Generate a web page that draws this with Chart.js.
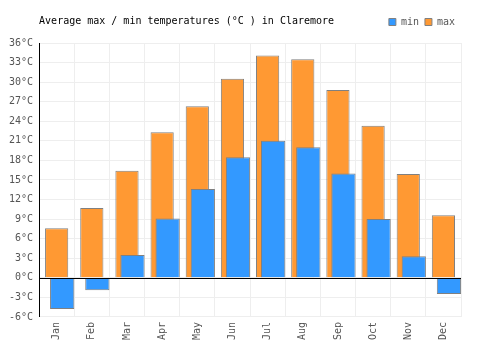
<!DOCTYPE html>
<html>
<head>
<meta charset="utf-8">
<script src="https://cdn.jsdelivr.net/npm/chart.js@4"></script>
<style>
  html, body { margin: 0; padding: 0; background: #fff; }
  #wrap { width: 500px; height: 350px; }
</style>
</head>
<body>
<div id="wrap"><canvas id="chart"></canvas></div>
<script>
const months   = ["Jan", "Feb", "Mar", "Apr", "May", "Jun",
                  "Jul", "Aug", "Sep", "Oct", "Nov", "Dec"];
const minTemps = [-4.8, -1.9, 3.5, 9.1, 13.6, 18.5, 21.0, 20.0, 16.0, 9.0, 3.3, -2.5];
const maxTemps = [7.6, 10.7, 16.4, 22.3, 26.3, 30.5, 34.1, 33.5, 28.8, 23.3, 15.9, 9.6];
const titleText = "Average max / min temperatures (°C ) in Claremore";

const FONT = "'DejaVu Sans Mono', monospace";
const MIN_SHIFT = 0.157;   // min bars sit a little right of the max bars

// title sits on the same row as the legend
const titlePlugin = {
    id: "rowTitle",
    afterDraw(chart) {
        const ctx = chart.ctx;
        ctx.save();
        ctx.font = "10px " + FONT;
        ctx.fillStyle = "#000";
        ctx.textBaseline = "middle";
        ctx.fillText(titleText, chart.chartArea.left, 21);
        ctx.restore();
    },
};

// a bit more room under the legend
const legendGap = {
    id: "legendGap",
    beforeInit(chart) {
        const fit = chart.legend.fit;
        chart.legend.fit = function () {
            fit.bind(chart.legend)();
            this.height += 6;
        };
    },
};

// black zero line on top of the bars
const zeroLine = {
    id: "zeroLine",
    afterDatasetsDraw(chart) {
        const ctx = chart.ctx;
        const y = Math.round(chart.scales.y.getPixelForValue(0)) + 0.5;
        ctx.save();
        ctx.strokeStyle = "#000";
        ctx.lineWidth = 1;
        ctx.beginPath();
        ctx.moveTo(chart.chartArea.left, y);
        ctx.lineTo(chart.chartArea.right, y);
        ctx.stroke();
        ctx.restore();
    },
};

new Chart(document.getElementById("chart"), {
    type: "bar",
    data: {
        labels: months,
        datasets: [{
            label: "min",
            data: minTemps.map((v, i) => ({ x: i, y: v })),
            xAxisID: "x2",
            grouped: false,
            backgroundColor: "#3399ff",
            borderColor: "#808080",
            borderWidth: 1,
            categoryPercentage: 1,
            barPercentage: 0.69,
        }, {
            label: "max",
            data: maxTemps,
            xAxisID: "x",
            grouped: false,
            backgroundColor: "#ff9933",
            borderColor: "#808080",
            borderWidth: 1,
            categoryPercentage: 1,
            barPercentage: 0.66,
        }],
    },
    options: {
        responsive: true,
        maintainAspectRatio: false,
        animation: false,
        layout: { padding: { left: 3, right: 39, top: 11, bottom: 5 } },
        plugins: {
            title: { display: false },
            tooltip: { enabled: false },
            legend: {
                position: "top",
                align: "end",
                labels: {
                    boxWidth: 7,
                    boxHeight: 7,
                    padding: 6,
                    color: "#555",
                    font: { family: FONT, size: 10 },
                },
            },
        },
        scales: {
            x: {
                type: "category",
                offset: true,
                grid: { color: "#eee", offset: true, drawTicks: false },
                border: { color: "#eee" },
                ticks: {
                    color: "#555",
                    padding: 5,
                    minRotation: 90,
                    maxRotation: 90,
                    font: { family: FONT, size: 10 },
                },
            },
            x2: {
                type: "linear",
                display: false,
                offset: false,
                min: -0.5 - MIN_SHIFT,
                max: 11.5 - MIN_SHIFT,
            },
            y: {
                min: -6,
                max: 36,
                grid: { color: "#eee", drawTicks: false },
                border: { color: "#000" },
                ticks: {
                    stepSize: 3,
                    color: "#555",
                    padding: 6,
                    font: { family: FONT, size: 10 },
                    callback: v => v + "°C",
                },
            },
        },
    },
    plugins: [titlePlugin, legendGap, zeroLine],
});
</script>
</body>
</html>
